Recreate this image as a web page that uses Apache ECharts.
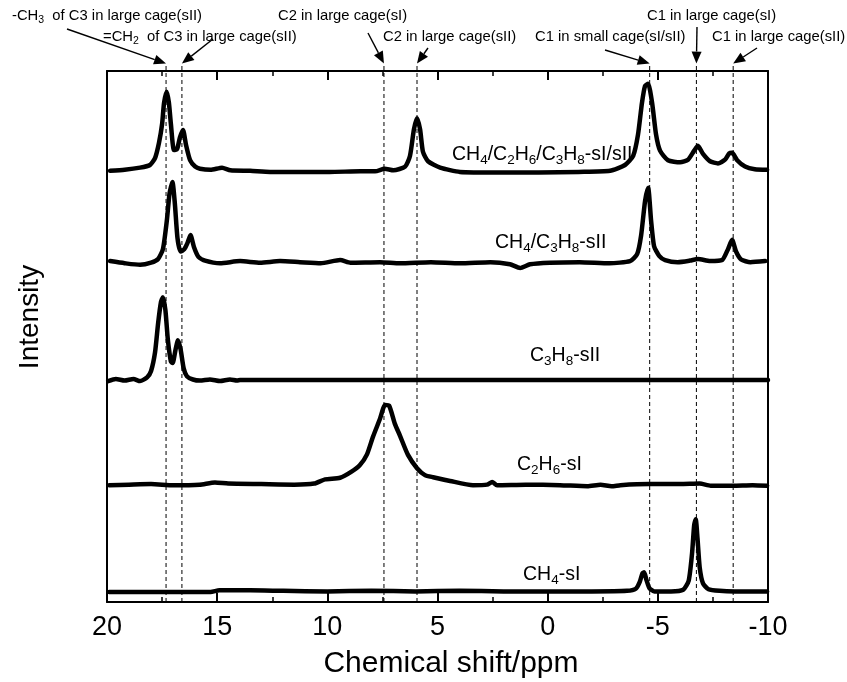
<!DOCTYPE html>
<html>
<head>
<meta charset="utf-8">
<script src="https://cdn.jsdelivr.net/npm/echarts@6/dist/echarts.min.js"></script>
<style>
  html, body { margin: 0; padding: 0; background: #fff; }
  #chart { width: 847px; height: 682px; }
</style>
</head>
<body>
<div id="chart"></div>
<script>
// 13C NMR spectra of gas hydrates, stacked with vertical offsets.
// Each spectrum: [chemical shift (ppm), stacked intensity]
const specMix = [
  [19.86,81.2],[19.2,81.4],[18.5,81.8],[18.05,82.3],[17.82,83.6],[17.64,86.5],[17.5,90.0],[17.41,94.0],
  [17.29,96.1],[17.19,94.0],[17.1,90.0],[16.96,85.1],[16.82,85.3],[16.69,87.5],[16.55,88.9],[16.41,86.0],
  [16.23,83.2],[16.0,82.0],[15.78,81.6],[15.3,81.4],[14.78,81.8],[14.4,81.3],[13.5,81.2],[12.6,81.0],
  [11.2,81.0],[9.9,81.0],[8.5,81.1],[7.83,81.1],[7.4,81.6],[7.0,81.3],[6.47,82.0],[6.25,84.0],
  [6.07,89.0],[5.93,91.1],[5.79,89.0],[5.66,84.8],[5.43,83.0],[4.88,81.8],[3.98,81.0],[2.2,80.9],
  [0.4,80.9],[-1.4,81.0],[-2.83,81.2],[-3.51,82.3],[-3.88,84.0],[-4.1,88.0],[-4.28,94.0],[-4.42,97.2],
  [-4.56,97.6],[-4.74,94.0],[-4.92,88.0],[-5.1,85.0],[-5.46,83.2],[-6.01,82.8],[-6.37,83.3],[-6.65,85.0],
  [-6.82,85.9],[-7.05,84.4],[-7.37,83.0],[-7.73,82.6],[-8.05,83.3],[-8.24,84.5],[-8.37,84.6],[-8.6,83.2],
  [-8.96,82.0],[-9.4,81.5],[-9.96,81.4]
];
const specC1C3 = [
  [19.86,64.2],[19.2,63.8],[18.5,63.5],[18.0,63.9],[17.68,64.6],[17.46,66.5],[17.28,72.0],[17.16,77.0],
  [17.03,79.1],[16.92,75.0],[16.8,68.5],[16.66,66.0],[16.5,66.4],[16.35,67.6],[16.21,69.1],[16.05,66.8],
  [15.85,65.0],[15.55,64.3],[14.87,63.8],[13.96,64.2],[13.05,63.9],[12.15,64.2],[11.24,64.0],[10.3,63.8],
  [9.42,64.4],[8.95,63.9],[7.61,64.0],[6.7,63.8],[5.3,64.0],[3.98,63.8],[2.6,64.0],[1.71,63.6],
  [1.25,62.9],[0.8,63.6],[-0.1,63.9],[-1.45,64.0],[-2.8,63.8],[-3.74,64.2],[-4.06,65.5],[-4.24,69.0],
  [-4.42,75.5],[-4.56,78.0],[-4.69,72.0],[-4.83,67.0],[-5.06,65.2],[-5.33,64.4],[-5.9,64.0],[-6.46,64.3],
  [-6.82,64.6],[-7.37,64.2],[-7.92,64.4],[-8.19,66.5],[-8.37,68.2],[-8.55,66.0],[-8.78,64.5],[-9.2,64.0],
  [-9.87,64.2]
];
const specC3 = [
  [19.95,41.6],[19.6,42.0],[19.2,41.7],[18.8,42.0],[18.5,41.6],[18.18,42.3],[18.0,43.5],[17.82,47.0],
  [17.68,52.5],[17.55,56.5],[17.46,57.4],[17.35,55.0],[17.24,49.5],[17.1,45.3],[17.02,45.0],[16.89,47.5],
  [16.78,49.3],[16.66,47.6],[16.52,44.0],[16.37,42.5],[16.1,41.9],[15.78,41.7],[15.33,41.9],[14.87,41.6],
  [14.42,41.9],[14.1,41.7],[13.96,41.8],[-10,41.8]
];
const specC2 = [
  [19.9,22.0],[19.0,22.1],[18.0,22.2],[17.0,22.0],[15.8,22.1],[15.1,22.5],[14.5,22.3],[13.0,22.2],
  [11.5,22.1],[10.6,22.3],[10.1,23.1],[9.42,23.4],[8.92,24.5],[8.52,25.8],[8.2,27.8],[7.93,31.1],
  [7.61,34.5],[7.38,37.1],[7.2,37.0],[6.93,33.5],[6.7,31.3],[6.34,27.7],[5.93,25.2],[5.57,23.9],
  [5.2,23.5],[4.43,22.8],[3.39,22.0],[2.75,22.1],[2.52,22.6],[2.3,22.0],[1.0,22.1],[-0.56,22.0],
  [-1.8,21.8],[-2.4,22.1],[-2.9,21.8],[-3.3,22.0],[-4.6,22.2],[-6.0,22.2],[-6.9,22.3],[-7.4,21.9],
  [-8.4,21.9],[-9.3,22.0],[-9.96,21.9]
];
const specC1 = [
  [19.9,1.9],[17.0,1.9],[15.3,1.9],[14.9,2.2],[13.5,2.2],[12.0,2.1],[10.0,2.0],[8.0,2.1],
  [6.0,2.0],[4.0,2.1],[2.0,2.0],[0.0,2.0],[-2.0,2.0],[-3.6,2.1],[-4.0,2.5],[-4.18,3.8],
  [-4.3,5.4],[-4.38,5.6],[-4.48,4.2],[-4.62,2.6],[-4.85,2.0],[-5.6,2.0],[-6.15,2.3],[-6.4,4.0],
  [-6.55,9.0],[-6.65,14.5],[-6.72,15.6],[-6.8,12.0],[-6.9,6.5],[-7.05,3.5],[-7.3,2.4],[-7.8,2.1],
  [-8.5,2.0],[-9.96,2.0]
];

// Reference shifts (ppm) marked by dashed guide lines
const refShifts = [17.32, 16.6, 7.43, 5.93, -4.63, -6.75, -8.42];

// Assignment labels (rich text), one per reference shift
const assignTexts = [
  '{t|-CH}{s|3}{t|  of C3 in large cage(sII)}',
  '{t|=CH}{s|2}{t|  of C3 in large cage(sII)}',
  '{t|C2 in large cage(sI)}',
  '{t|C2 in large cage(sII)}',
  '{t|C1 in small cage(sI/sII)}',
  '{t|C1 in large cage(sI)}',
  '{t|C1 in large cage(sII)}'
];

// Sample names
const sampleNames = [
  '{t|CH}{s|4}{t|/C}{s|2}{t|H}{s|6}{t|/C}{s|3}{t|H}{s|8}{t|-sI/sII}',
  '{t|CH}{s|4}{t|/C}{s|3}{t|H}{s|8}{t|-sII}',
  '{t|C}{s|3}{t|H}{s|8}{t|-sII}',
  '{t|C}{s|2}{t|H}{s|6}{t|-sI}',
  '{t|CH}{s|4}{t|-sI}'
];

const xTitle = 'Chemical shift/ppm';
const yTitle = 'Intensity';

const FONT = '"Liberation Sans", Arial, sans-serif';
const spectra = [specMix, specC1C3, specC3, specC2, specC1];

const chart = echarts.init(document.getElementById('chart'), null, { renderer: 'canvas' });

const axisLine = { show: true, onZero: false, lineStyle: { color: '#000', width: 2 } };
function xAxisDef(pos, showLabel) {
  return {
    type: 'value', min: -10, max: 20, interval: 5, inverse: true, position: pos,
    axisLine: axisLine,
    axisTick: { show: true, inside: true, length: 9, lineStyle: { color: '#000', width: 2 } },
    minorTick: { show: true, splitNumber: 2, length: 5, lineStyle: { color: '#000', width: 1.5 } },
    axisLabel: { show: showLabel, fontSize: 27, color: '#000', fontFamily: FONT, margin: 12 },
    splitLine: { show: false }
  };
}
function yAxisDef(pos) {
  return {
    type: 'value', min: 0, max: 100, position: pos,
    axisLine: axisLine, axisTick: { show: false }, axisLabel: { show: false },
    splitLine: { show: false }
  };
}

const DASH_TOP = 101.4;
const series = [];
refShifts.forEach(function (p) {
  series.push({
    type: 'line', data: [[p, 0], [p, DASH_TOP]], symbol: 'none', clip: false, silent: true,
    lineStyle: { color: '#000', width: 1, type: [4, 3] }, z: 1
  });
});
spectra.forEach(function (d) {
  series.push({
    type: 'line', data: d, symbol: 'none', smooth: 0.2, silent: true,
    lineStyle: { color: '#000', width: 4.5, join: 'round', cap: 'round' }, z: 3
  });
});

chart.setOption({
  animation: false,
  backgroundColor: '#fff',
  grid: { left: 107, right: 79, top: 71, bottom: 80, containLabel: false },
  xAxis: [xAxisDef('bottom', true), xAxisDef('top', false)],
  yAxis: [yAxisDef('left'), yAxisDef('right')],
  series: series
});

// Annotation layout
const assignPos = [[12, 16], [103, 37], [278, 16], [383, 37], [535, 37], [647, 16], [712, 37]];
const arrowTails = [[67, 29], [213, 39], [368, 33], [428, 48], [605, 50], [697, 27], [757, 48]];
const samplePos = [[452, 155], [495, 243], [530, 356], [517, 465], [523, 575]];

const smallRich = {
  t: { fontSize: 14.8, fontFamily: FONT, fill: '#000', lineHeight: 19 },
  s: { fontSize: 10.5, fontFamily: FONT, fill: '#000', lineHeight: 10.5, verticalAlign: 'bottom' }
};
const bigRich = {
  t: { fontSize: 19.5, fontFamily: FONT, fill: '#000', lineHeight: 25 },
  s: { fontSize: 13.5, fontFamily: FONT, fill: '#000', lineHeight: 13.5, verticalAlign: 'bottom' }
};

function arrow(x1, y1, x2, y2) {
  const dx = x2 - x1, dy = y2 - y1, L = Math.hypot(dx, dy);
  const ux = dx / L, uy = dy / L, hl = 12, hw = 5;
  const bx = x2 - ux * hl, by = y2 - uy * hl;
  return [
    { type: 'line', shape: { x1: x1, y1: y1, x2: bx, y2: by }, style: { stroke: '#000', lineWidth: 1.4 }, silent: true },
    { type: 'polygon', shape: { points: [[x2, y2], [bx - uy * hw, by + ux * hw], [bx + uy * hw, by - ux * hw]] }, style: { fill: '#000' }, silent: true }
  ];
}

const graphics = [];
assignTexts.forEach(function (txt, i) {
  graphics.push({
    type: 'text', x: assignPos[i][0], y: assignPos[i][1], silent: true,
    style: { text: txt, rich: smallRich, align: 'left', verticalAlign: 'middle', fill: '#000' }
  });
  const tip = chart.convertToPixel({ xAxisIndex: 0, yAxisIndex: 0 }, [refShifts[i], DASH_TOP]);
  arrow(arrowTails[i][0], arrowTails[i][1], tip[0], tip[1]).forEach(function (g) { graphics.push(g); });
});
sampleNames.forEach(function (txt, i) {
  graphics.push({
    type: 'text', x: samplePos[i][0], y: samplePos[i][1], silent: true, z: 10,
    style: { text: txt, rich: bigRich, align: 'left', verticalAlign: 'middle', fill: '#000' }
  });
});
graphics.push({
  type: 'text', x: 451, y: 664, silent: true,
  style: { text: xTitle, font: '30px ' + FONT, fill: '#000', align: 'center', verticalAlign: 'middle' }
});
graphics.push({
  type: 'text', x: 30, y: 317, rotation: Math.PI / 2, silent: true,
  style: { text: yTitle, font: '28px ' + FONT, fill: '#000', align: 'center', verticalAlign: 'middle' }
});

chart.setOption({ graphic: graphics });
</script>
</body>
</html>
